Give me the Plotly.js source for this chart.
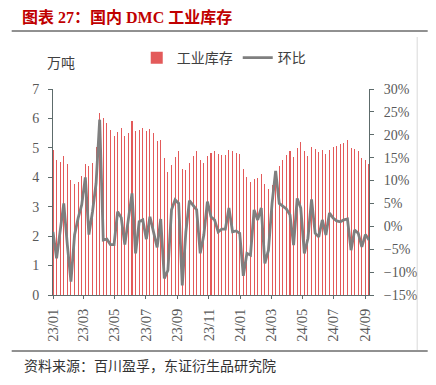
<!DOCTYPE html>
<html>
<head>
<meta charset="utf-8">
<script src="https://cdn.plot.ly/plotly-3.0.1.min.js"></script>
<style>
html,body{margin:0;padding:0;background:#fff;}
#chart{width:436px;height:385px;}
</style>
</head>
<body>
<div id="chart"></div>
<script>
// Weekly dates (categories)
const weeks = [
'2023-01-01','2023-01-08','2023-01-15','2023-01-22','2023-01-29',
'2023-02-05','2023-02-12','2023-02-19','2023-02-26',
'2023-03-05','2023-03-12','2023-03-19','2023-03-26',
'2023-04-02','2023-04-09','2023-04-16','2023-04-23','2023-04-30',
'2023-05-07','2023-05-14','2023-05-21','2023-05-28',
'2023-06-04','2023-06-11','2023-06-18','2023-06-25',
'2023-07-02','2023-07-09','2023-07-16','2023-07-23','2023-07-30',
'2023-08-06','2023-08-13','2023-08-20','2023-08-27',
'2023-09-03','2023-09-10','2023-09-17','2023-09-24',
'2023-10-01','2023-10-08','2023-10-15','2023-10-22','2023-10-29',
'2023-11-05','2023-11-12','2023-11-19','2023-11-26',
'2023-12-03','2023-12-10','2023-12-17','2023-12-24','2023-12-31',
'2024-01-07','2024-01-14','2024-01-21','2024-01-28',
'2024-02-04','2024-02-11','2024-02-18','2024-02-25',
'2024-03-03','2024-03-10','2024-03-17','2024-03-24','2024-03-31',
'2024-04-07','2024-04-14','2024-04-21','2024-04-28',
'2024-05-05','2024-05-12','2024-05-19','2024-05-26',
'2024-06-02','2024-06-09','2024-06-16','2024-06-23','2024-06-30',
'2024-07-07','2024-07-14','2024-07-21','2024-07-28',
'2024-08-04','2024-08-11','2024-08-18','2024-08-25',
'2024-09-01','2024-09-08'
];

// 工业库存 (万吨)
const inventory = [
4.93,4.59,4.51,4.74,4.46,3.90,3.78,3.83,4.05,4.46,
4.40,4.50,5.02,6.20,6.01,5.83,5.59,5.39,5.54,5.66,
5.39,5.50,5.92,5.56,5.59,5.69,5.56,5.63,5.49,5.22,
5.27,4.65,4.19,4.42,4.68,4.91,4.29,4.26,4.49,4.73,
4.91,4.60,4.49,4.74,4.82,4.88,4.80,4.77,4.75,4.93,
4.88,4.82,4.78,4.27,4.02,3.85,3.93,3.96,4.10,3.76,
3.59,3.74,4.23,4.40,4.58,4.77,4.90,4.70,5.00,5.21,
4.91,4.73,5.02,4.96,4.86,4.93,4.80,4.93,5.02,5.07,
5.12,5.18,5.27,5.01,4.97,4.88,4.67,4.59,4.45
];

// 环比 (%)
const mom = [
-1.2,-7.0,-1.0,5.0,-4.1,-12.1,-1.9,1.8,4.7,10.7,
-1.8,3.2,9.4,23.3,-3.0,-2.8,-4.0,-4.0,3.2,1.9,
-4.0,1.8,7.2,-5.9,1.0,1.4,-2.8,2.1,-1.2,-4.6,
1.6,-11.4,-9.6,3.6,5.8,5.0,-12.9,-1.2,5.6,4.7,
3.6,-5.9,-1.9,5.4,2.1,1.4,-1.2,-0.6,-0.6,4.0,
-1.2,-1.0,-1.5,-10.8,-5.9,-6.3,3.6,1.4,4.0,-8.1,
-5.2,5.0,12.1,5.0,4.3,3.8,2.5,-4.1,6.1,4.0,
-5.9,-2.6,5.9,-1.5,-2.3,1.4,-1.9,2.9,1.8,1.2,
1.0,1.4,1.6,-5.2,-0.8,-1.5,-4.5,-1.8,-3.0
];

const tickDates = ['2023-01-01','2023-03-01','2023-05-01','2023-07-01','2023-09-01','2023-11-01',
                   '2024-01-01','2024-03-01','2024-05-01','2024-07-01','2024-09-01'];
const tickLabels = ['23/01','23/03','23/05','23/07','23/09','23/11','24/01','24/03','24/05','24/07','24/09'];

const serif = 'Liberation Serif, "Times New Roman", "Noto Sans CJK SC", serif';
const cjk = '"Noto Sans CJK SC", sans-serif';
const axisColor = '#5d6b6b';
const tickColor = '#595959';

const traces = [
  {
    type: 'bar', name: '工业库存', x: weeks, y: inventory,
    width: 2.0 * 86400000,
    marker: {color: '#e35a5a', line: {width: 0}},
    yaxis: 'y'
  },
  {
    type: 'scatter', mode: 'lines', name: '环比', x: weeks, y: mom,
    line: {color: '#7f7f7f', width: 2.8},
    yaxis: 'y2'
  }
];

const layout = {
  width: 436, height: 385,
  margin: {l: 53.3, r: 66.7, t: 89, b: 90},
  paper_bgcolor: '#ffffff', plot_bgcolor: '#ffffff',
  showlegend: true,
  bargap: 0,
  title: {
    text: '<b>图表 27：国内 DMC 工业库存</b>',
    font: {family: serif, size: 16, color: '#c00000'},
    x: 22/436, xref: 'container', xanchor: 'left',
    y: 1 - 17/385, yref: 'container', yanchor: 'middle'
  },
  legend: {
    orientation: 'h', x: 0.265, xanchor: 'left', y: 1.15, yanchor: 'middle',
    font: {family: cjk, size: 14, color: '#404040'},
    bgcolor: 'rgba(0,0,0,0)', itemwidth: 30, traceorder: 'normal'
  },
  xaxis: {
    type: 'date',
    range: ['2023-01-01', '2024-09-08'],
    tickmode: 'array', tickvals: tickDates, ticktext: tickLabels,
    tickangle: -90,
    ticks: 'outside', ticklen: 3, tickcolor: axisColor,
    showline: true, linecolor: axisColor, linewidth: 1,
    showgrid: false, zeroline: false,
    tickfont: {family: serif, size: 14.5, color: tickColor},
    ticklabelstandoff: 4
  },
  yaxis: {
    range: [0, 7], dtick: 1, tick0: 0,
    ticks: 'outside', ticklen: 4, tickcolor: axisColor,
    showline: true, linecolor: axisColor, linewidth: 1,
    showgrid: false, zeroline: false,
    tickfont: {family: serif, size: 14, color: tickColor},
    ticklabelstandoff: 6
  },
  yaxis2: {
    overlaying: 'y', side: 'right',
    range: [-15, 30], dtick: 5, tick0: 0, ticksuffix: '%',
    ticks: 'outside', ticklen: 4, tickcolor: axisColor,
    showline: true, linecolor: axisColor, linewidth: 1,
    showgrid: false, zeroline: false,
    tickfont: {family: serif, size: 14, color: tickColor},
    ticklabelstandoff: 7
  },
  annotations: [
    {text: '万吨', xref: 'paper', yref: 'paper', x: 0.024, y: 1.13,
     xanchor: 'center', yanchor: 'middle', showarrow: false,
     font: {family: cjk, size: 14, color: '#404040'}},
    {text: '资料来源：百川盈孚，东证衍生品研究院', xref: 'paper', yref: 'paper',
     x: (22-53.3)/316, y: (295-365)/206, xanchor: 'left', yanchor: 'middle',
     showarrow: false, font: {family: cjk, size: 14, color: '#333333'}}
  ],
  shapes: [
    {type: 'line', xref: 'paper', yref: 'paper', x0: (12-53.3)/316, x1: (428-53.3)/316,
     y0: (295-31)/206, y1: (295-31)/206, line: {color: '#222222', width: 1}},
    {type: 'line', xref: 'paper', yref: 'paper', x0: (12-53.3)/316, x1: (428-53.3)/316,
     y0: (295-351)/206, y1: (295-351)/206, line: {color: '#222222', width: 1}},
    {type: 'line', xref: 'paper', yref: 'paper', x0: (417.5-53.3)/316, x1: (417.5-53.3)/316,
     y0: (295-37)/206, y1: (295-350)/206, line: {color: '#d9d9d9', width: 1}}
  ]
};

Plotly.newPlot('chart', traces, layout, {displayModeBar: false, staticPlot: true});
</script>
</body>
</html>
